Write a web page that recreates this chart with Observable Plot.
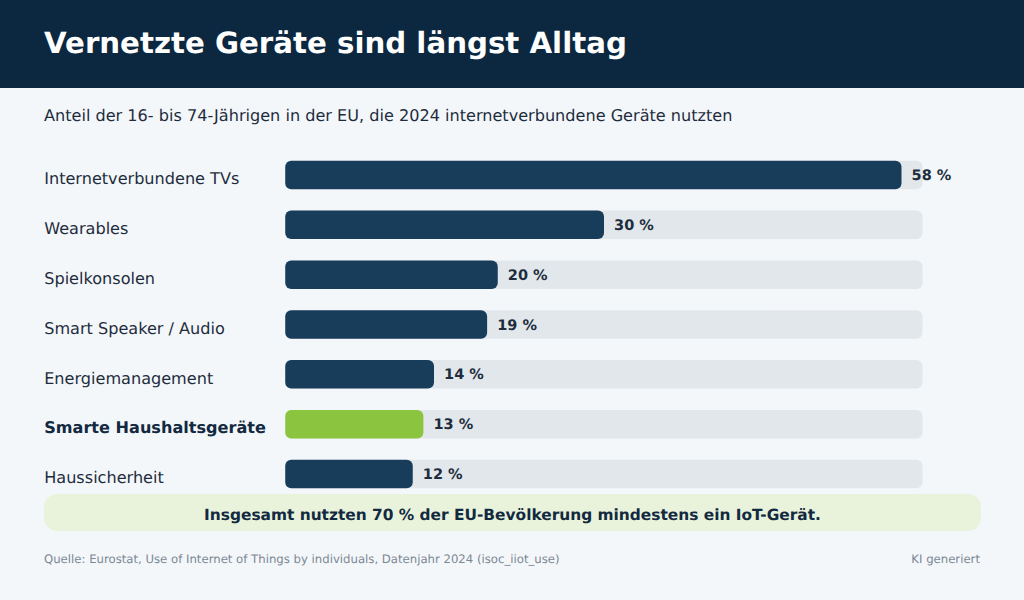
<!DOCTYPE html>
<html lang="de">
<head>
<meta charset="utf-8">
<script src="https://cdn.jsdelivr.net/npm/d3@7"></script>
<script src="https://cdn.jsdelivr.net/npm/@observablehq/plot@0.6"></script>
<style>
html,body{margin:0;padding:0;background:#f4f7fa;}
body{position:relative;width:1024px;height:600px;overflow:hidden;font-family:"DejaVu Sans",sans-serif;text-rendering:geometricPrecision;}
#head{position:absolute;left:0;top:0;width:1024px;height:88px;background:#0b2840;}
#title{position:absolute;left:44px;top:23.5px;font-size:29.25px;line-height:38px;font-weight:700;color:#fff;white-space:nowrap;}
#sub{position:absolute;left:44px;top:105px;font-size:16.1px;line-height:22px;color:#1e2d3d;white-space:nowrap;}
#chart{position:absolute;left:0;top:150.3px;}
#chart svg{display:block;background:transparent;overflow:visible;text-rendering:geometricPrecision;}
#note{position:absolute;left:44px;top:494px;width:937px;height:37px;border-radius:13px;background:#e9f3dc;color:#12293f;font-size:15.4px;font-weight:700;line-height:43px;text-align:center;}
#src{position:absolute;left:44px;top:551px;font-size:11.7px;line-height:16px;color:#7b8794;white-space:nowrap;}
#ki{position:absolute;right:44px;top:551px;font-size:11.7px;line-height:16px;color:#7b8794;white-space:nowrap;}
</style>
</head>
<body>
<div id="head"></div>
<div id="title">Vernetzte Geräte sind längst Alltag</div>
<div id="sub">Anteil der 16- bis 74-Jährigen in der EU, die 2024 internetverbundene Geräte nutzten</div>
<div id="chart"></div>
<div id="note">Insgesamt nutzten 70 % der EU-Bevölkerung mindestens ein IoT-Gerät.</div>
<div id="src">Quelle: Eurostat, Use of Internet of Things by individuals, Datenjahr 2024 (isoc_iiot_use)</div>
<div id="ki">KI generiert</div>
<script>
const categories = ["Internetverbundene TVs","Wearables","Spielkonsolen","Smart Speaker / Audio","Energiemanagement","Smarte Haushaltsgeräte","Haussicherheit"];
const shares = [58,30,20,19,14,13,12];
const highlighted = "Smarte Haushaltsgeräte";
const axisMax = 60;

const rows = categories.map((name,i)=>({name,value:shares[i],full:axisMax}));
const plain = rows.filter(d=>d.name!==highlighted);
const hot = rows.filter(d=>d.name===highlighted);
const barColor = d => d.name===highlighted ? "#8bc53f" : "#183d5b";

const chart = Plot.plot({
  width:1024,height:349,
  marginLeft:285,marginRight:101.5,marginTop:0,marginBottom:0,
  style:{background:"transparent",fontFamily:"'DejaVu Sans',sans-serif",overflow:"visible"},
  x:{domain:[0,axisMax],axis:null},
  y:{domain:categories,axis:null,paddingInner:0.428,paddingOuter:0.214,round:false},
  marks:[
    Plot.barX(rows,{y:"name",x:"full",fill:"#e2e7eb",rx:6}),
    Plot.barX(rows,{y:"name",x:"value",fill:barColor,rx:6,dx:0.25}),
    Plot.text(plain,{y:"name",text:"name",x:0,dx:-241.3,dy:3.5,textAnchor:"start",fontSize:16.1,fill:"#1e2d3d"}),
    Plot.text(hot,{y:"name",text:"name",x:0,dx:-241.3,dy:3.5,textAnchor:"start",fontSize:16.1,fontWeight:700,fill:"#12293f"}),
    Plot.text(rows,{y:"name",x:"value",text:d=>d.value+" %",dx:9.8,textAnchor:"start",fontSize:14.5,fontWeight:700,fill:"#1e2d3d"})
  ]
});
document.getElementById("chart").appendChild(chart);
</script>
</body>
</html>
